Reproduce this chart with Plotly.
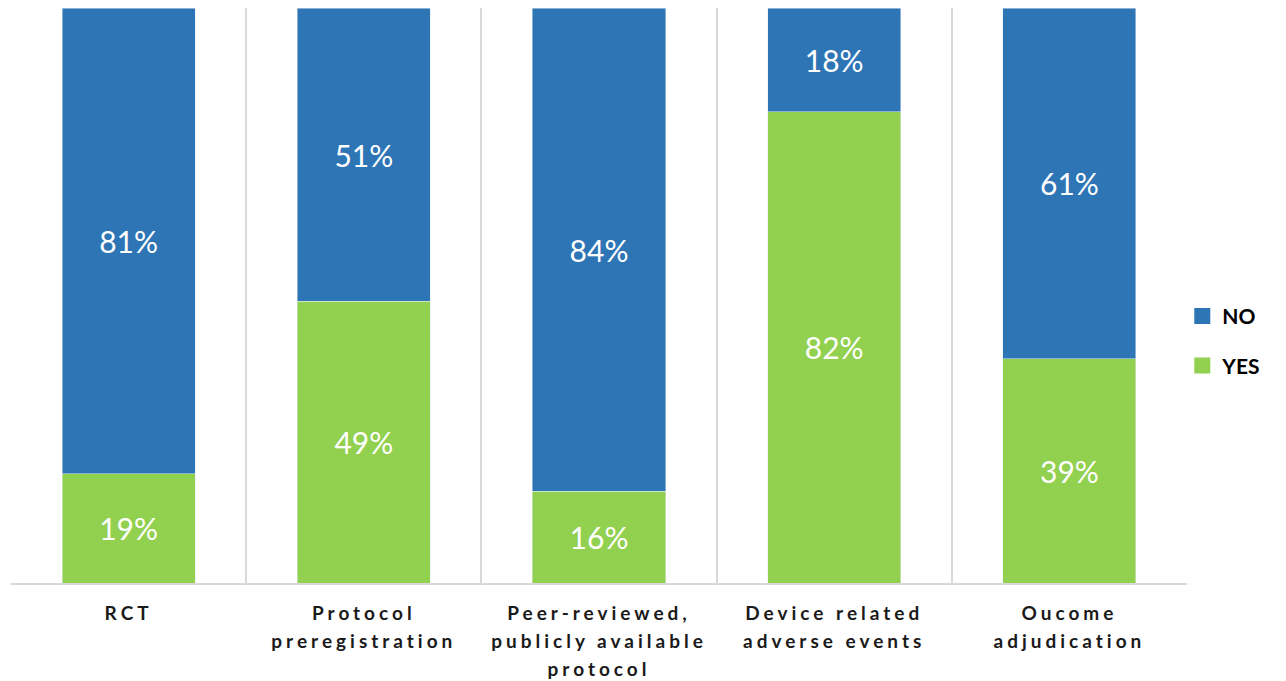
import plotly.graph_objects as go

# Share of studies meeting each quality criterion (percent)
categories = [
    "RCT",
    "Protocol<br>preregistration",
    "Peer-reviewed,<br>publicly available<br>protocol",
    "Device related<br>adverse events",
    "Oucome<br>adjudication",
]
yes_pct = [19, 49, 16, 82, 39]
no_pct = [81, 51, 84, 18, 61]

BLUE = "#2E75B6"
GREEN = "#92D050"
GRID = "#D9D9D9"
FONT = "Lato"

fig = go.Figure()

fig.add_trace(go.Bar(
    name="YES", x=categories, y=yes_pct, marker_color=GREEN,
    texttemplate="%{y}%", textposition="inside", insidetextanchor="middle",
    textfont=dict(family=FONT, size=30, color="white"),
    showlegend=False, hoverinfo="skip",
))
fig.add_trace(go.Bar(
    name="NO", x=categories, y=no_pct, marker_color=BLUE,
    texttemplate="%{y}%", textposition="inside", insidetextanchor="middle",
    textfont=dict(family=FONT, size=30, color="white"),
    showlegend=False, hoverinfo="skip",
))

# Legend entries with square swatches
for name, color, grp in [("NO", BLUE, "a"), ("YES", GREEN, "b")]:
    fig.add_trace(go.Scatter(
        x=[None], y=[None], mode="markers", name=name, legendgroup=grp,
        marker=dict(symbol="square", size=16, color=color),
    ))

fig.update_layout(
    barmode="stack",
    bargap=0.434,
    width=1286, height=681,
    margin=dict(l=11, r=99, t=8, b=98),
    paper_bgcolor="white",
    plot_bgcolor="white",
    font=dict(family=FONT, color="#000000"),
    legend=dict(
        x=0.996, xanchor="left", y=0.421, yanchor="middle",
        font=dict(family=FONT, size=21, color="#000000", weight="bold"),
        tracegroupgap=19, itemwidth=30, traceorder="grouped",
    ),
    xaxis=dict(
        type="category", tickson="boundaries", automargin=False,
        showgrid=True, gridcolor=GRID, gridwidth=2,
        showline=True, linecolor=GRID, linewidth=2,
        ticks="", ticklabelstandoff=12,
        tickfont=dict(family=FONT, size=19, color="#1a1a1a", weight="bold"),
        range=[-0.5, 4.5],
    ),
    yaxis=dict(
        range=[0, 100], showgrid=False, zeroline=False,
        showticklabels=False, showline=False,
    ),
)

# Wider letter spacing and line spacing for the category labels
label_style = (
    "var s=document.createElement('style');"
    "s.textContent='.xtick text{letter-spacing:4px;}';"
    "document.head.appendChild(s);"
    "document.querySelectorAll('.xtick text tspan.line').forEach(function(t){"
    "var d=t.getAttribute('dy');"
    "if(d && parseFloat(d)>0){"
    "var n=Math.round(parseFloat(d)/1.3);"
    "t.setAttribute('dy',(n*28)+'px');}"
    "});"
)

fig.write_html("out.html", post_script=label_style)
